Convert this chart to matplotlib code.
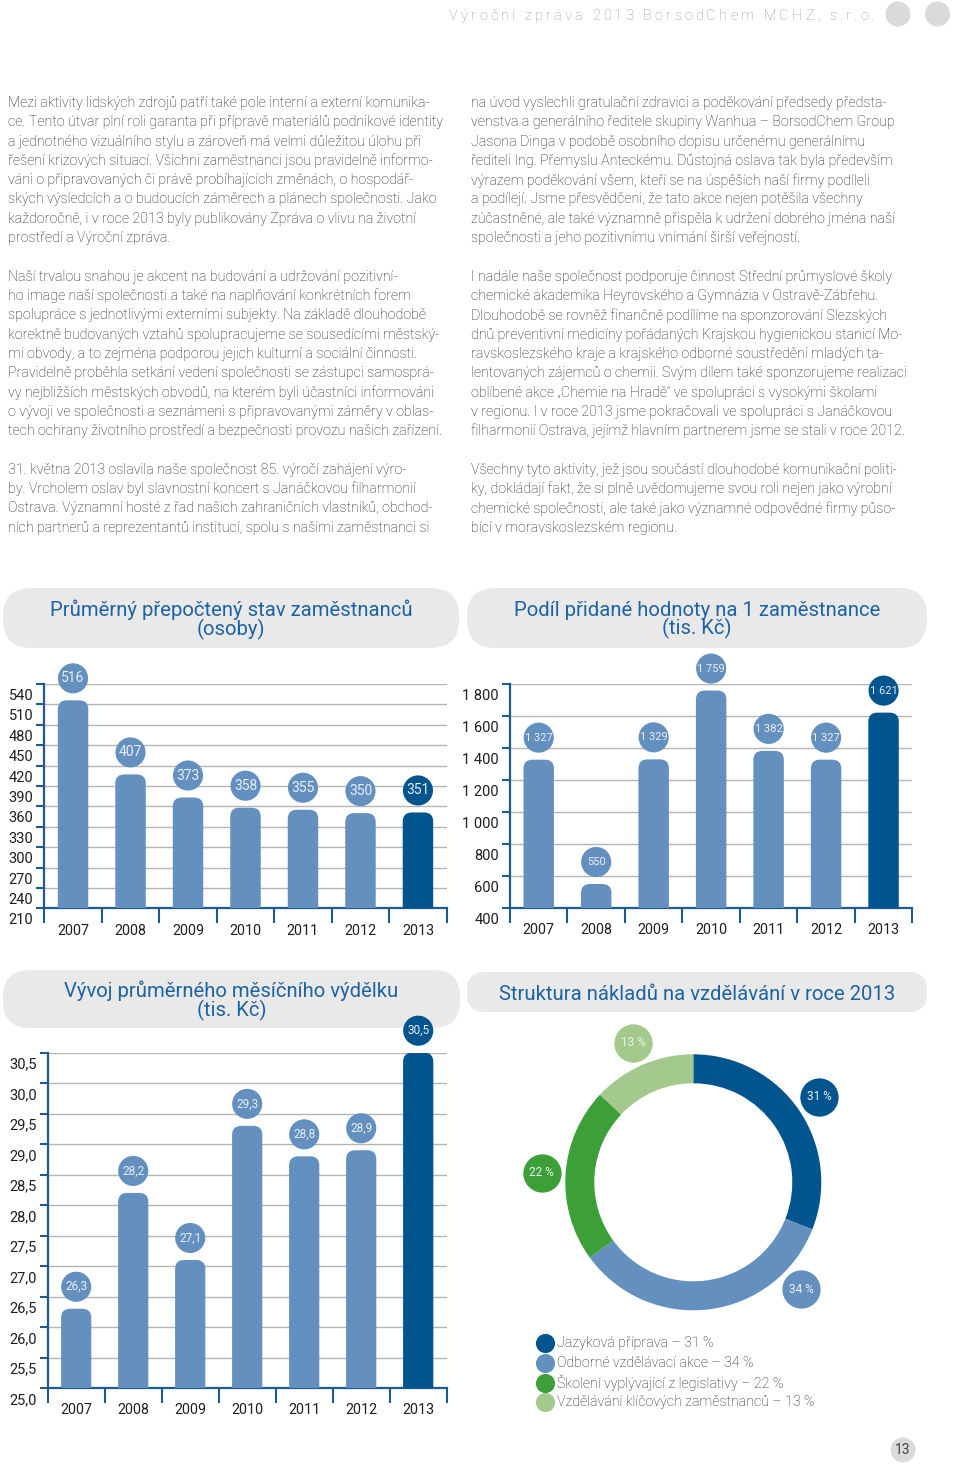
import matplotlib
matplotlib.use('Agg')
import matplotlib.pyplot as plt
import numpy as np
from matplotlib.patches import FancyBboxPatch, Circle
from matplotlib.transforms import ScaledTranslation, offset_copy

plt.rcParams['font.family'] = ['Roboto', 'DejaVu Sans']

# ---- data ----
years = ['2007', '2008', '2009', '2010', '2011', '2012', '2013']
staff = [516, 407, 373, 358, 355, 350, 351]
value_added = [1327, 550, 1329, 1759, 1382, 1327, 1621]
wage = [26.3, 28.2, 27.1, 29.3, 28.8, 28.9, 30.5]

edu_labels = ['Jazyková příprava', 'Odborné vzdělávací akce',
              'Školení vyplývající z legislativy', 'Vzdělávání klíčových zaměstnanců']
edu_share = [31, 34, 22, 13]

staff_ticks = list(range(210, 541, 30))
va_ticks = list(range(400, 1801, 200))
wage_ticks = [25.0 + 0.5 * i for i in range(12)]

titles = [
    'Průměrný přepočtený stav zaměstnanců\n(osoby)',
    'Podíl přidané hodnoty na 1 zaměstnance\n(tis. Kč)',
    'Vývoj průměrného měsíčního výdělku\n(tis. Kč)',
    'Struktura nákladů na vzdělávání v roce 2013',
]

header = 'Výroční zpráva 2013 BorsodChem MCHZ, s.r.o.'

left_lines = [
    'Mezi aktivity lidských zdrojů patří také pole interní a externí komunika-',
    'ce. Tento útvar plní roli garanta při přípravě materiálů podnikové identity',
    'a jednotného vizuálního stylu a zároveň má velmi důležitou úlohu při',
    'řešení krizových situací. Všichni zaměstnanci jsou pravidelně informo-',
    'váni o připravovaných či právě probíhajících změnách, o hospodář-',
    'ských výsledcích a o budoucích záměrech a plánech společnosti. Jako',
    'každoročně, i v roce 2013 byly publikovány Zpráva o vlivu na životní',
    'prostředí a Výroční zpráva.',
    '',
    'Naší trvalou snahou je akcent na budování a udržování pozitivní-',
    'ho image naší společnosti a také na naplňování konkrétních forem',
    'spolupráce s jednotlivými externími subjekty. Na základě dlouhodobě',
    'korektně budovaných vztahů spolupracujeme se sousedícími městský-',
    'mi obvody, a to zejména podporou jejich kulturní a sociální činnosti.',
    'Pravidelně proběhla setkání vedení společnosti se zástupci samosprá-',
    'vy nejbližších městských obvodů, na kterém byli účastníci informováni',
    'o vývoji ve společnosti a seznámeni s připravovanými záměry v oblas-',
    'tech ochrany životního prostředí a bezpečnosti provozu našich zařízení.',
    '',
    '31. května 2013 oslavila naše společnost 85. výročí zahájení výro-',
    'by. Vrcholem oslav byl slavnostní koncert s Janáčkovou filharmonií',
    'Ostrava. Významní hosté z řad našich zahraničních vlastníků, obchod-',
    'ních partnerů a reprezentantů institucí, spolu s našimi zaměstnanci si',
]
right_lines = [
    'na úvod vyslechli gratulační zdravici a poděkování předsedy předsta-',
    'venstva a generálního ředitele skupiny Wanhua – BorsodChem Group',
    'Jasona Dinga v podobě osobního dopisu určenému generálnímu',
    'řediteli Ing. Přemyslu Anteckému. Důstojná oslava tak byla především',
    'výrazem poděkování všem, kteří se na úspěších naší firmy podíleli',
    'a podílejí. Jsme přesvědčeni, že tato akce nejen potěšila všechny',
    'zúčastněné, ale také významně přispěla k udržení dobrého jména naší',
    'společnosti a jeho pozitivnímu vnímání širší veřejností.',
    '',
    'I nadále naše společnost podporuje činnost Střední průmyslové školy',
    'chemické akademika Heyrovského a Gymnázia v Ostravě-Zábřehu.',
    'Dlouhodobě se rovněž finančně podílíme na sponzorování Slezských',
    'dnů preventivní medicíny pořádaných Krajskou hygienickou stanicí Mo-',
    'ravskoslezského kraje a krajského odborné soustředění mladých ta-',
    'lentovaných zájemců o chemii. Svým dílem také sponzorujeme realizaci',
    'oblíbené akce „Chemie na Hradě“ ve spolupráci s vysokými školami',
    'v regionu. I v roce 2013 jsme pokračovali ve spolupráci s Janáčkovou',
    'filharmonií Ostrava, jejímž hlavním partnerem jsme se stali v roce 2012.',
    '',
    'Všechny tyto aktivity, jež jsou součástí dlouhodobé komunikační politi-',
    'ky, dokládají fakt, že si plně uvědomujeme svou roli nejen jako výrobní',
    'chemické společnosti, ale také jako významné odpovědné firmy půso-',
    'bící v moravskoslezském regionu.',
]

# ---- colours ----
BLUE = '#6490bf'
DARK = '#00558f'
GREEN = '#3c9f38'
LGREEN = '#a4c98c'
TITLE = '#1c63a5'
SPINE = '#1f5a8e'
GRID = '#b4b4b4'
TEXT = '#1e1e1e'
PILL = '#e9e9e9'

W, H = 960, 1465
fig = plt.figure(figsize=(W / 100, H / 100), dpi=100)
fig.patch.set_facecolor('white')

# background axes in pixel units, for text blocks and title pills
bg = fig.add_axes([0, 0, 1, 1])
bg.set_xlim(0, W)
bg.set_ylim(H, 0)
bg.axis('off')

# header with letter spacing
renderer = fig.canvas.get_renderer()
x = 449
for ch in header:
    t = bg.text(x, 16, ch, fontsize=10.5, color='#9a9a9a', va='center', ha='left',
                fontweight='light')
    bb = t.get_window_extent(renderer=renderer)
    w = 3.5 if ch == ' ' else bb.width
    x += w + 3.1
for cx in (898, 937.5):
    bg.add_patch(Circle((cx, 14), 12.5, fc='#dadada', ec='none'))

# body text
for col_x, lines in ((8, left_lines), (471, right_lines)):
    for i, line in enumerate(lines):
        bg.text(col_x, 103 + i * 19.3, line, fontsize=10.3, color=TEXT, va='center',
                ha='left', fontweight='light')

# title pills
pills = [(3, 588, 456, 60), (467, 588, 460, 60), (3, 970, 457, 58), (467, 972, 460, 40)]
for (px, py, pw, ph), title in zip(pills, titles):
    bg.add_patch(FancyBboxPatch((px, py), pw, ph,
                                boxstyle='round,pad=0,rounding_size=%g' % (ph / 2 - 2),
                                fc=PILL, ec='none'))
    bg.text(px + pw / 2, py + ph / 2 + 2, title, fontsize=14.6, color=TITLE,
            ha='center', va='center', linespacing=0.92)

# page number
bg.add_patch(Circle((903, 1450), 12.5, fc='#dadada', ec='none'))
bg.text(903, 1450, '13', fontsize=10, color='#444444', ha='center', va='center')


def make_axes(left, top, right, bottom):
    return fig.add_axes([left / W, 1 - bottom / H, (right - left) / W, (bottom - top) / H],
                        facecolor='none')


def bar_chart(ax, vals, ticks, fmt, label_size, box_px):
    px_w, px_h = box_px
    colors = [BLUE] * (len(vals) - 1) + [DARK]
    x = list(range(len(vals)))
    y0, y1 = ticks[0], ticks[-1]
    ax.set_xlim(-0.5, len(vals) - 0.5)
    ax.set_ylim(y0, y1)
    bars = ax.bar(x, [v - y0 for v in vals], bottom=y0, width=0.53, color=colors, zorder=3)

    # rounded tops
    sx = px_w / (len(vals))
    sy = px_h / (y1 - y0)
    r = 9
    rx, ry = r / sx, r / sy
    for b in bars:
        top = b.get_y() + b.get_height()
        bottom = y0 - 2 * ry
        p = FancyBboxPatch((b.get_x(), bottom), b.get_width(), top - bottom,
                           boxstyle='round,pad=0,rounding_size=%g' % rx,
                           mutation_aspect=ry / rx, fc=b.get_facecolor(), ec='none', zorder=3)
        ax.add_patch(p)
        b.remove()

    # value bubbles
    tr = offset_copy(ax.transData, fig=fig, x=0, y=22, units='dots')
    ax.scatter(x, vals, s=470, c=colors, transform=tr, clip_on=False, zorder=4,
               linewidths=0)
    for xi, v in zip(x, vals):
        ax.text(xi, v, fmt(v), transform=tr, ha='center', va='center', fontsize=label_size,
                color='#e8eef6', clip_on=False, zorder=5)

    # axes styling
    for s in ('top', 'right'):
        ax.spines[s].set_visible(False)
    for s in ('left', 'bottom'):
        ax.spines[s].set_color(SPINE)
        ax.spines[s].set_linewidth(1.6)
    ax.set_yticks(ticks)
    ax.set_yticklabels([])
    ax.tick_params(axis='y', length=6, width=1.5, color=SPINE, direction='out')
    ax.yaxis.grid(True, color=GRID, linewidth=1.0)
    ax.set_axisbelow(True)
    ax.set_xticks(x)
    ax.set_xticklabels(years, fontsize=10.3, color=TEXT)
    ax.set_xticks([i - 0.5 for i in range(len(vals) + 1)], minor=True)
    ax.tick_params(axis='x', which='major', length=0, pad=11)
    ax.tick_params(axis='x', which='minor', length=11, width=1.5, color=SPINE, direction='out')

    ytr = ax.get_yaxis_transform() + ScaledTranslation(-0.11, -0.12, fig.dpi_scale_trans)
    for t in ticks:
        ax.text(0, t, fmt(t), transform=ytr, ha='right', va='center', fontsize=10.5,
                color=TEXT)


def thousands(v):
    return '{:,}'.format(int(v)).replace(',', ' ')


def decimal_comma(v):
    return '{:.1f}'.format(v).replace('.', ',')


ax1 = make_axes(44.3, 684, 446.7, 908.3)
bar_chart(ax1, staff, staff_ticks, lambda v: str(int(v)), 10, (402.4, 224.3))

ax2 = make_axes(510, 684, 912.3, 908)
bar_chart(ax2, value_added, va_ticks, thousands, 8, (402.3, 224))

ax3 = make_axes(47.7, 1052.7, 446.7, 1388)
bar_chart(ax3, wage, wage_ticks, decimal_comma, 8.5, (399, 335.3))

# donut
cx, cy, half = 693.3, 1182.3, 175
axd = make_axes(cx - half, cy - half, cx + half, cy + half)
edu_colors = [DARK, BLUE, GREEN, LGREEN]
axd.pie(edu_share, colors=edu_colors, startangle=90, counterclock=False, radius=128,
        wedgeprops=dict(width=29, edgecolor='none'))
axd.set_xlim(-half, half)
axd.set_ylim(-half, half)
axd.set_aspect('equal')
axd.axis('off')

label_shift = [0, 38, 0, 0]
start = 90.0
for share, col, shift in zip(edu_share, edu_colors, label_shift):
    span = share / 100 * 360
    mid = np.deg2rad(start - span / 2 + shift)
    lx, ly = 152 * np.cos(mid), 152 * np.sin(mid)
    axd.scatter([lx], [ly], s=760, c=[col], linewidths=0, clip_on=False, zorder=4)
    axd.text(lx, ly, '%d %%' % share, ha='center', va='center', fontsize=8.5,
             color='#eef3f8', zorder=5, clip_on=False)
    start -= span

# legend
for i, (lab, share, col) in enumerate(zip(edu_labels, edu_share, edu_colors)):
    yy = 1343.3 + i * 19.6
    bg.scatter([545], [yy], s=190, c=[col], linewidths=0)
    bg.text(557, yy, '%s – %d %%' % (lab, share), fontsize=10.3, color=TEXT,
            va='center', ha='left', fontweight='light')

fig.savefig('out.png', dpi=100)
